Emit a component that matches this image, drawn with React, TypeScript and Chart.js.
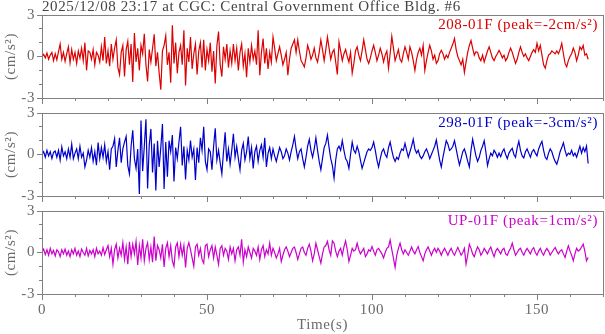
import React, { useEffect, useRef } from 'react';
import { Chart, registerables } from 'chart.js';
Chart.register(...registerables);

const TITLE = '2025/12/08 23:17 at CGC: Central Government Office Bldg. #6';
const DT = 0.5; // sampling step of the traces (s)
const X_MIN = 0;
const X_MAX = 170;
const Y_MIN = -3;
const Y_MAX = 3;
const X_LABELED = [0, 50, 100, 150];
const Y_LABELED = [-3, 0, 3];
const X_TITLE = 'Time(s)';
const Y_TITLE = '(cm/s²)';
const LABELS = ['208-01F (peak=-2cm/s²)', '298-01F (peak=-3cm/s²)', 'UP-01F (peak=1cm/s²)'];
const COLORS = ['#dd0000', '#0000cc', '#cc00cc'];

const ch208 = [
  0.0, 0.15, -0.1, 0.25, -0.2, 0.1, 0.3, -0.3, 0.2, -0.25, 0.35, 0.9, -0.2, 0.3, -0.35, 0.2, 0.7, -0.45, 0.5, -0.2,
  0.3, -0.5, 0.4, -0.1, 0.6, -0.3, 1.0, -1.0, 0.4, 0.3, -0.2, 0.5, -0.6, 0.3, 0.1, -0.4, 0.7, -0.3, 1.4, -0.5,
  0.4, -0.7, 0.9, -0.2, 0.6, 1.2, -0.8, -1.3, 0.3, 0.8, -1.45, 0.5, 1.1, -0.6, 0.9, -1.85, 1.7, -0.4, 0.6, -1.0,
  0.8, 0.2, 1.65, -0.6, -1.8, 0.5, -0.4, 0.6, 1.6, -0.7, 0.3, -1.2, -2.4, 0.4, 0.8, 1.5, -0.6, 0.3, -1.9, 2.25,
  -0.5, 1.0, -1.2, 0.3, 0.8, -0.6, 1.9, -2.1, 0.6, -0.4, 1.4, -0.9, 0.2, 0.9, -1.3, 0.4, 1.0, -0.8, 1.2, -1.0,
  0.5, -0.3, 1.0, -1.1, 0.4, -1.95, 0.8, 1.8, -0.6, -1.45, 0.7, -0.2, 0.9, -0.8, 0.4, -0.5, 0.9, -0.3, 0.6, -1.0,
  0.3, 0.9, -0.7, 0.2, -1.5, 0.6, -0.4, 0.8, -0.2, 0.4, -0.6, 1.9, -1.35, 0.3, 1.3, -0.5, 0.6, -0.9, 0.3, -0.4,
  1.4, 0.6, -0.3, 0.2, 0.7, 0.1, -0.6, -0.2, 0.3, -1.35, -0.2, 0.6, 0.9, 1.2, 0.3, 1.2, 0.4, -0.3, -0.5, -0.75,
  -0.1, 0.8, 0.4, -0.2, 0.1, 0.6, -0.1, -0.4, 0.3, 1.2, 0.5, -0.3, 0.5, 1.4, 0.6, -0.2, 0.3, 0.5, -0.4, -1.3,
  1.05, 0.4, -0.3, 0.2, 0.5, 0.0, -0.4, 0.3, -1.2, -0.5, 0.4, 0.7, 0.1, -0.3, 0.4, 1.2, 0.5, -0.2, -0.5, -0.1,
  0.4, 0.8, 0.3, -0.3, 0.1, 0.6, 0.2, -0.4, 0.1, 0.4, -0.85, 0.2, 1.45, 0.6, -0.3, 0.1, 0.5, -0.2, -0.4, 0.2,
  0.7, 0.3, -0.2, 0.7, 0.3, -0.3, -1.0, -0.2, 0.3, 0.6, 0.1, 0.8, -1.0, -0.3, 0.3, 0.8, 0.4, -0.2, 0.1, -0.5,
  -0.3, 0.2, 0.45, 0.2, -0.2, 0.1, -0.1, 0.3, 0.6, 0.9, 1.3, 0.5, 0.0, -0.3, -0.6, -0.2, -1.15, -0.4, 0.3, 0.8,
  1.15, 0.6, 0.1, 0.35, 0.3, -0.1, -0.3, 0.1, -0.4, 0.0, 0.4, 0.7, 0.3, -0.1, -0.3, 0.0, 0.2, 0.45, 0.2, -0.1,
  0.1, -0.3, -0.1, 0.3, 0.6, 0.3, -0.1, -0.5, -0.2, 0.3, 0.7, 0.3, 0.0, 0.2, -0.1, -0.3, 0.0, 0.3, 0.5, 0.3,
  0.95, 0.4, 0.8, 0.1, -0.6, -0.85, -0.3, 0.1, 0.2, 0.4, 0.3, 0.2, 0.4, 0.2, 0.5, 0.95, 0.2, -0.5, -0.75, -0.3,
  0.0, 0.2, 0.6, 0.3, -0.3, 0.1, 0.7, 0.5, 0.8, 0.1, 0.2, -0.2,
];

const ch298 = [
  0.0, 0.2, -0.2, 0.3, -0.1, 0.2, -0.3, 0.15, 0.25, -0.2, 0.3, -0.4, 0.55, -0.1, 0.2, -0.3, 0.4, -0.2, 0.75, -0.3,
  0.1, 0.4, -0.3, 0.6, -0.2, 0.1, -0.9, -0.4, 0.3, -0.2, 0.5, -0.5, 0.2, -0.77, 0.86, -0.3, 0.5, -0.2, 0.7, -0.5,
  0.2, -1.1, 0.4, 0.6, 1.15, -0.9, 0.3, 1.2, -0.6, 0.4, 0.9, 1.3, -0.8, -1.4, 0.6, 1.75, -0.3, -1.0, 0.4, -2.85,
  2.45, -1.2, 0.6, 2.55, -2.45, 0.7, 1.85, -1.3, 0.8, -2.6, 1.0, -0.9, 0.5, 2.2, -2.5, 0.9, -1.6, 1.0, 0.2, 1.4,
  -1.95, 0.5, -0.3, 0.9, 2.0, -0.8, 0.6, -1.8, 0.3, -0.4, 1.0, -0.2, 0.4, -1.85, 0.5, -0.6, 1.2, 0.3, 2.0, -0.5,
  -1.1, 0.4, 0.2, -1.1, 0.6, 1.9, -0.4, 0.3, -0.6, -1.4, 0.2, 1.6, -0.5, 0.4, -0.7, 0.3, 1.5, -0.2, 0.6, -0.3,
  -1.1, 0.3, 0.8, -0.4, 0.2, 1.3, -0.3, 0.5, -1.0, 0.2, 0.6, -0.5, 0.3, 0.7, -0.2, 1.2, -0.9, 0.1, 0.5, -0.3,
  0.4, -0.1, -0.5, 0.0, 0.5, 0.2, -0.3, -0.1, 0.4, 0.1, -0.4, 0.2, 0.7, 1.3, 0.4, -0.3, 0.2, 0.4, -0.3, -0.9,
  -0.2, 0.6, 1.1, 0.3, -0.2, 0.4, 1.2, 0.3, -0.5, -1.1, -0.3, 0.5, 0.8, 1.4, 0.5, -0.3, -0.8, -1.7, -0.4, 0.4,
  0.6, 0.3, 1.0, 0.3, -0.3, -0.5, -1.0, 0.0, 0.9, 0.3, 0.1, 0.6, 0.2, -0.4, -1.0, -0.6, -0.2, 0.2, 0.4, 0.3,
  0.5, 0.9, 0.3, -0.4, -0.9, -0.3, 0.2, 0.4, 0.0, -0.2, 0.5, 0.9, 0.3, -0.2, -0.5, -0.2, -0.35, 0.1, 0.4, 0.3,
  0.8, 0.3, -0.2, 0.2, 0.6, 1.1, 0.4, 0.1, 0.3, -0.1, -0.3, -0.1, 0.2, 0.4, 0.1, -0.3, 0.0, 0.3, 0.6, 1.05,
  0.3, -0.4, -0.9, -0.2, 0.4, 1.0, 0.75, 0.3, 0.4, 0.6, 1.0, 0.4, -0.2, -0.75, -0.3, 0.2, 0.4, 0.0, -0.5, -0.9,
  0.3, 1.1, 0.5, -0.1, -0.5, -0.2, 0.3, 0.6, 1.0, 0.2, -0.8, -0.3, 0.1, -0.1, 0.3, 0.1, -0.2, 0.1, -0.15, 0.2,
  0.4, 0.0, -0.3, 0.1, 0.3, 0.45, 0.0, -0.2, 0.5, 0.95, 0.3, -0.1, -0.25, 0.2, 0.4, 0.1, -0.2, 0.2, 0.35, 0.1,
  -0.1, 0.4, 0.7, 0.95, 0.3, -0.2, -0.35, 0.1, 0.4, 0.2, -0.2, -0.5, -0.7, -0.3, 0.2, 0.5, 0.85, 0.3, -0.1, 0.1,
  0.0, 0.3, -0.1, 0.1, -0.2, 0.2, 0.6, 0.1, 0.5, 0.2, 0.6, -0.65,
];

const chUP = [
  0.0, 0.25, -0.15, 0.2, -0.2, 0.3, -0.1, 0.15, -0.25, 0.2, 0.05, -0.3, 0.2, -0.1, 0.25, -0.2, 0.1, -0.3, 0.2, -0.1,
  0.3, -0.2, 0.1, -0.3, 0.25, 0.0, -0.2, 0.3, -0.25, 0.15, -0.1, 0.2, -0.3, 0.3, -0.1, 0.1, -0.2, 0.35, -0.15, 0.2,
  0.5, -0.3, 0.3, -0.85, 0.2, 0.6, -0.4, 0.3, -0.2, 0.7, -0.5, 0.4, -0.85, 0.77, -0.3, 0.6, -0.1, 0.8, -0.9, 0.5,
  -0.4, 0.96, -0.6, 0.3, 0.7, -0.5, 0.4, -0.7, 1.15, -0.6, 0.5, 0.2, -0.4, 0.6, -1.05, 0.3, 0.7, -0.3, 0.5, -0.6,
  -1.0, 0.4, 0.7, -0.3, 0.6, -0.2, 0.5, -1.08, 0.3, 0.72, 0.2, -0.4, -1.0, 0.4, 0.6, -0.2, 0.3, -0.5, -0.77, 0.5,
  0.6, -0.3, 0.2, 0.5, -0.4, 0.4, -0.2, -0.85, 0.3, 0.5, -0.2, 0.3, 0.1, -0.5, 0.4, -0.1, 0.3, -0.6, 0.2, 0.4,
  -0.2, 0.96, -0.7, 0.2, -0.3, 0.4, 0.0, -0.4, 0.3, 0.1, -0.2, 0.4, -0.5, 0.2, 0.5, -0.3, 0.2, -0.1, 0.67, -0.2,
  0.3, 0.0, -0.4, -0.1, 0.3, -0.65, -0.2, 0.2, 0.4, 0.1, -0.3, 0.0, 0.3, 0.4, 0.0, -0.5, -0.1, 0.3, 0.4, 0.0,
  -0.2, 0.3, 0.6, 0.1, -0.6, -0.1, 0.67, 0.2, -0.3, -0.77, -0.1, 0.4, 0.5, 0.8, 0.2, -0.2, 0.84, 0.67, 0.1, -0.3,
  0.1, 0.3, -0.2, 0.4, 0.84, 0.2, -0.65, -0.2, 0.3, 0.1, 0.2, 0.67, 0.2, -0.1, 0.1, 0.3, -0.3, -0.1, 0.2, 0.1,
  0.43, 0.1, -0.2, 0.2, 0.3, 0.1, -0.1, -0.4, 0.0, 0.3, 0.4, 0.9, 0.2, -0.4, -1.08, -0.2, 0.3, 0.67, 0.2, -0.1,
  0.2, 0.0, -0.2, 0.1, 0.4, 0.1, -0.1, 0.2, 0.43, 0.0, -0.3, -0.6, -0.1, 0.2, 0.4, 0.1, -0.2, 0.1, 0.3, 0.0,
  0.3, 0.1, -0.2, 0.1, 0.3, 0.05, -0.2, 0.1, 0.3, 0.0, -0.2, 0.1, 0.36, 0.1, -0.2, 0.0, 0.3, -0.84, -0.2, 0.6,
  0.3, -0.1, -0.3, 0.1, 0.4, 0.2, -0.2, 0.0, 0.3, 0.1, -0.1, 0.2, 0.4, 0.0, -0.3, 0.1, 0.3, 0.1, -0.1, 0.2,
  0.3, -0.1, -0.2, 0.1, 0.3, 0.67, 0.2, -0.2, 0.0, 0.2, 0.3, 0.0, -0.2, 0.1, 0.3, 0.1, -0.1, 0.2, 0.35, 0.0,
  -0.2, 0.1, 0.3, 0.0, -0.2, 0.1, 0.3, 0.1, -0.2, 0.0, 0.2, 0.36, 0.1, -0.1, 0.1, 0.2, -0.1, -0.36, 0.1, 0.48,
  0.1, -0.2, -0.6, -0.1, 0.3, 0.1, 0.2, 0.4, 0.6, 0.1, -0.6, -0.36,
];

const SERIES = [ch208, ch298, chUP];

const FONT_FAMILY = '"Liberation Serif", "Times New Roman", serif';
const FRAME_COLOR = '#808080';
const TICK_TEXT = '#6a6a6a';

const framePlugin = {
  id: 'frame',
  beforeDraw(chart: any) {
    try { chart.ctx.letterSpacing = '0.6px'; } catch (e) {}
  },
  afterDraw(chart: any, _args: any, opts: any) {
    const { ctx, chartArea: a } = chart;
    ctx.save();
    ctx.strokeStyle = FRAME_COLOR;
    ctx.lineWidth = 1;
    const l = Math.round(a.left) + 0.5;
    const t = Math.round(a.top) + 0.5;
    const r = Math.round(a.right) + 0.5;
    const b = Math.round(a.bottom) + 0.5;
    ctx.strokeRect(l, t, r - l, b - t);
    ctx.font = '15px ' + FONT_FAMILY;
    try { ctx.letterSpacing = '0.6px'; } catch (e) {}
    ctx.textBaseline = 'alphabetic';
    ctx.textAlign = 'right';
    ctx.fillStyle = opts.color;
    ctx.fillText(opts.label, a.right - 5, a.top + 14);
    if (opts.title) {
      ctx.textAlign = 'left';
      ctx.fillStyle = '#444444';
      ctx.fillText(opts.title, 42, 11);
    }
    ctx.restore();
  },
};

type PanelProps = {
  values: number[];
  color: string;
  label: string;
  top: number;
  height: number;
  padTop: number;
  axisH: number;
  showX: boolean;
  title?: string;
};

function Panel({ values, color, label, top, height, padTop, axisH, showX, title }: PanelProps) {
  const ref = useRef<HTMLCanvasElement>(null);
  useEffect(() => {
    const points = values.map((v, i) => ({ x: i * DT, y: v }));
    const font = { family: FONT_FAMILY, size: 15 };
    const chart = new Chart(ref.current as HTMLCanvasElement, {
      type: 'line',
      data: {
        datasets: [
          {
            data: points,
            borderColor: color,
            borderWidth: 1.2,
            pointRadius: 0,
            fill: false,
            tension: 0,
          },
        ],
      },
      options: {
        animation: false,
        responsive: false,
        maintainAspectRatio: false,
        events: [],
        layout: { padding: { top: padTop, right: 2, bottom: 0, left: 0 } },
        plugins: {
          legend: { display: false },
          tooltip: { enabled: false },
          title: { display: false },
          frame: { label, color, title },
        } as any,
        scales: {
          x: {
            type: 'linear',
            min: X_MIN,
            max: X_MAX,
            border: { display: false },
            grid: {
              drawOnChartArea: false,
              drawTicks: true,
              tickLength: 6,
              tickColor: FRAME_COLOR,
              tickBorderDash: (c: any) => (c.tick && X_LABELED.includes(c.tick.value) ? [] : [3, 20]),
            } as any,
            ticks: {
              display: showX,
              stepSize: 10,
              autoSkip: false,
              maxRotation: 0,
              padding: 1,
              color: TICK_TEXT,
              font,
              callback: (v: any) => (X_LABELED.includes(Number(v)) ? String(v) : ''),
            },
            title: {
              display: showX,
              text: X_TITLE,
              color: TICK_TEXT,
              font,
              padding: { top: 0, bottom: 0 },
            },
            afterFit: (s: any) => {
              s.height = axisH;
              s.paddingLeft = 0;
              s.paddingRight = 0;
            },
          },
          y: {
            type: 'linear',
            min: Y_MIN,
            max: Y_MAX,
            border: { display: false },
            grid: {
              drawOnChartArea: false,
              drawTicks: true,
              tickLength: 5,
              tickColor: FRAME_COLOR,
              tickBorderDash: (c: any) => (c.tick && Y_LABELED.includes(c.tick.value) ? [] : [3, 2]),
              tickBorderDashOffset: (c: any) => (c.tick && Y_LABELED.includes(c.tick.value) ? 0 : 3),
            } as any,
            ticks: {
              stepSize: 1,
              autoSkip: false,
              padding: 2,
              color: TICK_TEXT,
              font,
              callback: (v: any) => (Y_LABELED.includes(Number(v)) ? String(v) : ''),
            },
            title: {
              display: true,
              text: Y_TITLE,
              color: TICK_TEXT,
              font,
              padding: { top: 2, bottom: 0 },
            },
            afterFit: (s: any) => {
              s.width = 42;
              s.paddingTop = 0;
              s.paddingBottom = 0;
            },
          },
        },
      },
      plugins: [framePlugin as any],
    } as any);
    return () => chart.destroy();
  }, []);
  return (
    <canvas
      ref={ref}
      width={605}
      height={height}
      style={{ position: 'absolute', left: 0, top, width: 605, height, display: 'block' }}
    />
  );
}

export default function App() {
  return (
    <div style={{ position: 'absolute', left: 0, top: 0, width: 605, height: 334, background: '#ffffff', overflow: 'hidden' }}>
      <Panel values={SERIES[0]} color={COLORS[0]} label={LABELS[0]} top={0} height={106} padTop={15} axisH={8} showX={false} title={TITLE} />
      <Panel values={SERIES[1]} color={COLORS[1]} label={LABELS[1]} top={106} height={98} padTop={7} axisH={8} showX={false} />
      <Panel values={SERIES[2]} color={COLORS[2]} label={LABELS[2]} top={204} height={130} padTop={7} axisH={40} showX={true} />
    </div>
  );
}
